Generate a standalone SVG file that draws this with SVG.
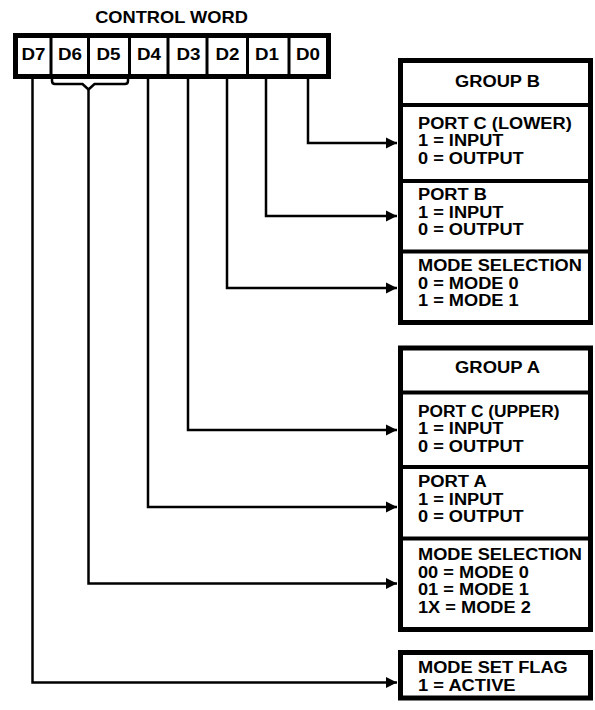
<svg xmlns="http://www.w3.org/2000/svg" width="595" height="710" viewBox="0 0 595 710">
<style>
text{font-family:"Liberation Sans",Arial,sans-serif;font-weight:bold;font-size:15.6px;fill:#000}
.c{text-anchor:middle}
.h{font-size:16px}
.d{font-size:16.5px}
.box{fill:#fff;stroke:#000;stroke-width:5}
.div{stroke:#000;stroke-width:4}
.cell{stroke:#000;stroke-width:3}
.wire{fill:none;stroke:#000;stroke-width:2.5}
</style>
<defs>
<marker id="arr" markerUnits="userSpaceOnUse" markerWidth="12" markerHeight="12" refX="11" refY="6" orient="auto">
<path d="M0,0.5 L11,6 L0,11.5 Z" fill="#000"/>
</marker>
</defs>
<rect width="595" height="710" fill="#fff"/>

<g id="control-word">
<text class="c d" x="171.5" y="23" textLength="152.7" lengthAdjust="spacingAndGlyphs">CONTROL WORD</text>
<rect class="box" x="15.5" y="35.5" width="313" height="41"/>
<line class="cell" x1="51" y1="37" x2="51" y2="75"/>
<line class="cell" x1="88.5" y1="37" x2="88.5" y2="75"/>
<line class="cell" x1="129.5" y1="37" x2="129.5" y2="75"/>
<line class="cell" x1="168" y1="37" x2="168" y2="75"/>
<line class="cell" x1="207" y1="37" x2="207" y2="75"/>
<line class="cell" x1="247.5" y1="37" x2="247.5" y2="75"/>
<line class="cell" x1="289" y1="37" x2="289" y2="75"/>
<text class="c d" x="33.5" y="60" textLength="24" lengthAdjust="spacingAndGlyphs">D7</text>
<text class="c d" x="70" y="60" textLength="24" lengthAdjust="spacingAndGlyphs">D6</text>
<text class="c d" x="108.5" y="60" textLength="24" lengthAdjust="spacingAndGlyphs">D5</text>
<text class="c d" x="149" y="60" textLength="24" lengthAdjust="spacingAndGlyphs">D4</text>
<text class="c d" x="188.5" y="60" textLength="24" lengthAdjust="spacingAndGlyphs">D3</text>
<text class="c d" x="227.5" y="60" textLength="24" lengthAdjust="spacingAndGlyphs">D2</text>
<text class="c d" x="267" y="60" textLength="24" lengthAdjust="spacingAndGlyphs">D1</text>
<text class="c d" x="308" y="60" textLength="24" lengthAdjust="spacingAndGlyphs">D0</text>
</g>

<g id="group-b">
<rect class="box" x="400.5" y="60.5" width="190" height="262"/>
<line class="div" x1="400" y1="105" x2="591" y2="105"/>
<line class="div" x1="400" y1="181" x2="591" y2="181"/>
<line class="div" x1="400" y1="251.5" x2="591" y2="251.5"/>
<text class="c h" x="497.5" y="87" textLength="84.9" lengthAdjust="spacingAndGlyphs">GROUP B</text>
</g>
<g id="port-c-lower">
<text x="418" y="128.5" textLength="153.7" lengthAdjust="spacingAndGlyphs">PORT C (LOWER)</text>
<text x="418" y="146" textLength="85.5" lengthAdjust="spacingAndGlyphs">1 = INPUT</text>
<text x="418" y="163.5" textLength="105.7" lengthAdjust="spacingAndGlyphs">0 = OUTPUT</text>
</g>
<g id="port-b">
<text x="418" y="200" textLength="68.8" lengthAdjust="spacingAndGlyphs">PORT B</text>
<text x="418" y="217.5" textLength="85.5" lengthAdjust="spacingAndGlyphs">1 = INPUT</text>
<text x="418" y="235" textLength="105.7" lengthAdjust="spacingAndGlyphs">0 = OUTPUT</text>
</g>
<g id="mode-selection-b">
<text x="418" y="271" textLength="163.8" lengthAdjust="spacingAndGlyphs">MODE SELECTION</text>
<text x="418" y="288.5" textLength="100.6" lengthAdjust="spacingAndGlyphs">0 = MODE 0</text>
<text x="418" y="306" textLength="100.6" lengthAdjust="spacingAndGlyphs">1 = MODE 1</text>
</g>

<g id="group-a">
<rect class="box" x="400.5" y="348" width="190" height="281.5"/>
<line class="div" x1="400" y1="392.5" x2="591" y2="392.5"/>
<line class="div" x1="400" y1="467" x2="591" y2="467"/>
<line class="div" x1="400" y1="538.5" x2="591" y2="538.5"/>
<text class="c h" x="497.5" y="373" textLength="84.9" lengthAdjust="spacingAndGlyphs">GROUP A</text>
</g>
<g id="port-c-upper">
<text x="418" y="416.5" textLength="141.4" lengthAdjust="spacingAndGlyphs">PORT C (UPPER)</text>
<text x="418" y="434" textLength="85.5" lengthAdjust="spacingAndGlyphs">1 = INPUT</text>
<text x="418" y="451.5" textLength="105.7" lengthAdjust="spacingAndGlyphs">0 = OUTPUT</text>
</g>
<g id="port-a">
<text x="418" y="487" textLength="68.8" lengthAdjust="spacingAndGlyphs">PORT A</text>
<text x="418" y="504.5" textLength="85.5" lengthAdjust="spacingAndGlyphs">1 = INPUT</text>
<text x="418" y="522" textLength="105.7" lengthAdjust="spacingAndGlyphs">0 = OUTPUT</text>
</g>
<g id="mode-selection-a">
<text x="418" y="560" textLength="163.8" lengthAdjust="spacingAndGlyphs">MODE SELECTION</text>
<text x="418" y="577.5" textLength="110.8" lengthAdjust="spacingAndGlyphs">00 = MODE 0</text>
<text x="418" y="595" textLength="110.8" lengthAdjust="spacingAndGlyphs">01 = MODE 1</text>
<text x="418" y="612.5" textLength="112.8" lengthAdjust="spacingAndGlyphs">1X = MODE 2</text>
</g>

<g id="mode-set-flag">
<rect class="box" x="400.5" y="652.5" width="190" height="45.5"/>
<text x="418" y="673" textLength="149.7" lengthAdjust="spacingAndGlyphs">MODE SET FLAG</text>
<text x="418" y="690.5" textLength="97.6" lengthAdjust="spacingAndGlyphs">1 = ACTIVE</text>
</g>

<g id="connectors">
<path class="wire" d="M308,79 V143 H397" marker-end="url(#arr)"/>
<path class="wire" d="M266,79 V216 H397" marker-end="url(#arr)"/>
<path class="wire" d="M227,79 V288 H397" marker-end="url(#arr)"/>
<path class="wire" d="M188,79 V430 H397" marker-end="url(#arr)"/>
<path class="wire" d="M148,79 V507 H397" marker-end="url(#arr)"/>
<path class="wire" d="M52,79 V81 Q52,84 55,84 H82.5 L88.5,89.5 L94.5,84 H125 Q128,84 128,81 V79"/>
<path class="wire" d="M88.5,89 V583.5 H397" marker-end="url(#arr)"/>
<path class="wire" d="M32.5,79 V682.5 H397" marker-end="url(#arr)"/>
</g>
</svg>
